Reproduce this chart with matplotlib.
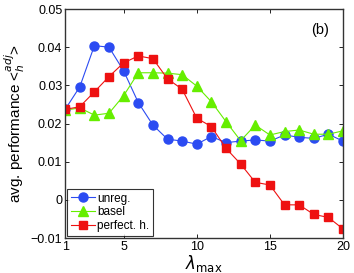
import numpy as np
import matplotlib
matplotlib.use("Agg")
import matplotlib.pyplot as plt

lam = list(range(1, 21))
unreg = [0.0237, 0.0296, 0.0404, 0.0400, 0.0338, 0.0255, 0.0196, 0.0159, 0.0154, 0.0146,
         0.0166, 0.0150, 0.0154, 0.0157, 0.0154, 0.0170, 0.0164, 0.0161, 0.0172, 0.0154]
basel = [0.0235, 0.0241, 0.0222, 0.0227, 0.0273, 0.0333, 0.0333, 0.0332, 0.0328, 0.0298,
         0.0257, 0.0205, 0.0155, 0.0196, 0.0170, 0.0179, 0.0183, 0.0172, 0.0172, 0.0181]
perfect = [0.0237, 0.0244, 0.0283, 0.0323, 0.0359, 0.0377, 0.0370, 0.0317, 0.0290, 0.0214,
           0.0192, 0.0135, 0.0094, 0.0046, 0.0039, -0.0013, -0.0013, -0.0038, -0.0046, -0.0076]
xticks = [1, 5, 10, 15, 20]
yticks = [-0.01, 0, 0.01, 0.02, 0.03, 0.04, 0.05]
ytick_labels = ['\u22120.01', '0', '0.01', '0.02', '0.03', '0.04', '0.05']

plt.rcParams['font.family'] = ['Liberation Sans', 'DejaVu Sans']
fig = plt.figure(figsize=(3.54, 2.73), dpi=100)
ax = fig.add_axes([0.184, 0.128, 0.785, 0.839])

ax.plot(lam, unreg, '-o', color='#2b4bf2', lw=0.8, ms=6.5, label='unreg.')
ax.plot(lam, basel, '-^', color='#66ee00', lw=0.8, ms=7, label='basel')
ax.plot(lam, perfect, '-s', color='#ee1111', lw=0.8, ms=6, label='perfect. h.')

ax.set_xlim(1, 20)
ax.set_ylim(-0.01, 0.05)
ax.set_xticks(xticks)
ax.set_yticks(yticks)
ax.set_yticklabels(ytick_labels)
ax.tick_params(direction='in', top=True, right=True, labelsize=9, length=3, width=0.6, pad=2)
for s in ax.spines.values():
    s.set_linewidth(1.0)
    s.set_color('#333333')

ax.set_xlabel(r'$\lambda_{\mathrm{max}}$', fontsize=12, labelpad=0)
ax.set_ylabel(r'avg. performance <$_{h}^{adj}$>', fontsize=11, labelpad=3)
ax.text(0.95, 0.89, '(b)', transform=ax.transAxes, ha='right', fontsize=10.5)

leg = ax.legend(loc='lower left', fontsize=8.5, frameon=True, fancybox=False,
                borderpad=0.3, labelspacing=0.15, handlelength=2.0, handletextpad=0.2,
                borderaxespad=0.2)
leg.get_frame().set_edgecolor('black')
leg.get_frame().set_linewidth(0.8)

fig.savefig('out.png', dpi=100)
